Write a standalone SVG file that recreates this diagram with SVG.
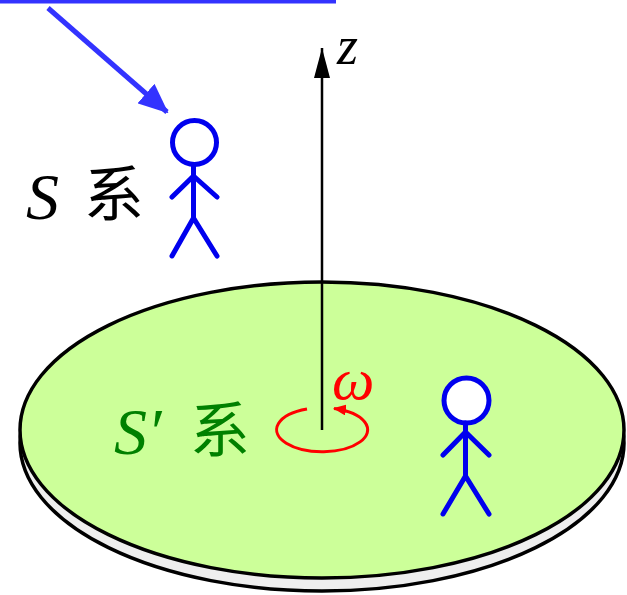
<svg xmlns="http://www.w3.org/2000/svg" width="627" height="595" viewBox="0 0 627 595">
  <style>
    .head { fill: #fff; stroke: #0000ee; stroke-width: 5; }
    .limbs { fill: none; stroke: #0000ee; stroke-width: 5; stroke-linecap: round; stroke-linejoin: round; }
    .math { font-family: "Liberation Serif", "DejaVu Serif", serif; font-style: italic; }
    .cjk { font-family: "Noto Sans CJK SC", "Noto Sans CJK JP", sans-serif; }
  </style>
  <defs>
    <marker id="headBlack" viewBox="0 0 30 16" refX="30" refY="8" markerWidth="30" markerHeight="16" markerUnits="userSpaceOnUse" orient="auto">
      <path d="M0,0 L30,8 L0,16 Z" fill="#000"/>
    </marker>
    <marker id="headBlue" viewBox="0 0 30 26" refX="28" refY="13" markerWidth="30" markerHeight="26" markerUnits="userSpaceOnUse" orient="auto">
      <path d="M0,0 L30,13 L0,26 Z" fill="#3333ff"/>
    </marker>
    <marker id="headRed" viewBox="0 0 13 11" refX="12" refY="5.5" markerWidth="13" markerHeight="11" markerUnits="userSpaceOnUse" orient="auto">
      <path d="M0,0 L13,5.5 L0,11 Z" fill="#ff0000"/>
    </marker>
  </defs>

  <!-- rotating disk (frame S') -->
  <g id="disk">
    <ellipse cx="322" cy="443" rx="302" ry="148" fill="#eeeeee" stroke="#000" stroke-width="3.5"/>
    <ellipse cx="322" cy="430" rx="302" ry="148" fill="#ccff99" stroke="#000" stroke-width="3.5"/>
  </g>

  <g id="connectors">
    <!-- top bar and pointer to observer in S -->
    <line x1="0" y1="1.5" x2="336" y2="1.5" stroke="#3333ff" stroke-width="4"/>
    <line x1="48" y1="8" x2="167" y2="112" stroke="#3333ff" stroke-width="5" marker-end="url(#headBlue)"/>
    <!-- rotation axis -->
    <line x1="322" y1="430" x2="322" y2="48" stroke="#000" stroke-width="2.5" marker-end="url(#headBlack)"/>
    <!-- rotation sense -->
    <path d="M307,409 A45.5,22 0 1 0 334,408.5" fill="none" stroke="#ff0000" stroke-width="3" marker-end="url(#headRed)"/>
  </g>

  <text class="math" x="337" y="64" font-size="54">z</text>
  <text class="math" x="332" y="399" font-size="60" fill="#ff0000">ω</text>

  <!-- observer at rest -->
  <g id="observerS">
    <circle class="head" cx="194.5" cy="142.5" r="22"/>
    <path class="limbs" d="M193.5,165 V218 M172,197 L193.5,176 L217,197 M172,256 L193.5,218 L217,256"/>
  </g>
  <g id="labelS">
    <text class="math" x="26" y="219" font-size="66">S</text>
    <text class="cjk" x="84" y="216" font-size="60">系</text>
  </g>

  <!-- observer on the disk -->
  <g id="observerSprime">
    <circle class="head" cx="466.5" cy="400.5" r="22.5"/>
    <path class="limbs" d="M465.5,423 V476 M443,455 L465.5,432 L489,455 M443,514 L465.5,476 L489,514"/>
  </g>
  <g id="labelSprime" fill="#008000">
    <text class="math" x="114" y="454" font-size="66">S′</text>
    <text class="cjk" x="190" y="452" font-size="60">系</text>
  </g>
</svg>
